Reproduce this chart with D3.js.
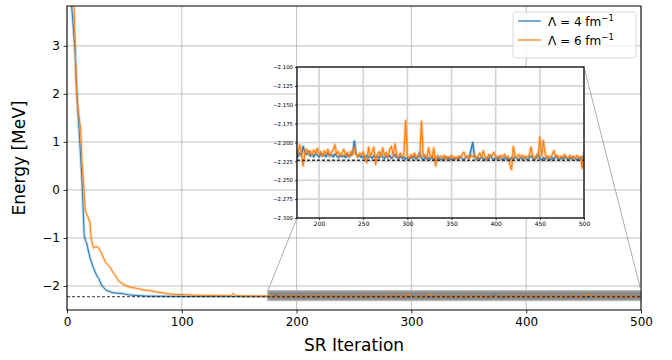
<!DOCTYPE html>
<html><head><meta charset="utf-8">
<script src="https://cdn.jsdelivr.net/npm/d3@7"></script>
<style>body{margin:0;background:#fff} svg{display:block} text{font-family:"DejaVu Sans",sans-serif}</style>
</head><body><svg id="c" width="672" height="360"></svg>
<script>
// ---------- data ----------
const xTicksMain = [0, 100, 200, 300, 400, 500];
const yTicksMain = [-2, -1, 0, 1, 2, 3];
const xTicksInset = [200, 250, 300, 350, 400, 450, 500];
const yTicksInset = [-2.300, -2.275, -2.250, -2.225, -2.200, -2.175, -2.150, -2.125, -2.100];
const seriesNames = ["\u039B = 4 fm", "\u039B = 6 fm"];
const exactEnergy = -2.2235;
const insetXRange = [175, 500];
const insetYRange = [-2.3, -2.1];

const iterEarly4 = [0,2,4,7,9,11,13,15,16,17,18,20,23,26,28,30,34,40,49,55,62,69,80,90,100,110,120,130,140,150,160,170,174];
const energyEarly4 = [5.5,4.6,3.85,2.9,1.85,1.05,0.2,-0.95,-1.05,-1.1,-1.2,-1.41,-1.62,-1.79,-1.86,-1.98,-2.09,-2.14,-2.16,-2.19,-2.2,-2.21,-2.212,-2.215,-2.217,-2.218,-2.218,-2.219,-2.218,-2.219,-2.218,-2.219,-2.218];

const iterEarly6 = [0,3,6,7,8,9,10,12,13,14,16,18,20,21,23,25,27,30,33,35,38,40,42,45,48,52,56,61,66,72,80,87,95,102,110,120,130,140,143,145,147,155,165,174];
const energyEarly6 = [6.2,4.8,3.9,3.2,2.2,1.8,1.6,1.25,0.6,0.3,-0.44,-0.55,-0.68,-1.0,-1.21,-1.18,-1.19,-1.31,-1.48,-1.55,-1.62,-1.72,-1.78,-1.9,-1.95,-2.0,-2.03,-2.05,-2.08,-2.1,-2.13,-2.16,-2.175,-2.18,-2.19,-2.195,-2.2,-2.203,-2.2,-2.155,-2.203,-2.206,-2.209,-2.21];

// iterations 176..500, every second iteration
const iterLate = d3.range(176, 501, 2);
const energyLate4 = [
-2.219,-2.214,-2.217,-2.205,-2.213, -2.216,-2.212,-2.218,-2.215,-2.219,
-2.214,-2.217,-2.219,-2.215,-2.218, -2.216,-2.219,-2.214,-2.218,-2.216,
-2.219,-2.215,-2.218,-2.220,-2.216, -2.219,-2.217,-2.220,-2.216,-2.219,
-2.217,-2.214,-2.198,-2.216,-2.219, -2.217,-2.220,-2.218,-2.221,-2.217,
-2.220,-2.218,-2.221,-2.217,-2.220, -2.218,-2.221,-2.214,-2.219,-2.221,
-2.218,-2.220,-2.217,-2.221,-2.219, -2.216,-2.220,-2.222,-2.218,-2.221,
-2.219,-2.222,-2.220,-2.223,-2.219, -2.221,-2.218,-2.222,-2.220,-2.213,
-2.221,-2.223,-2.219,-2.222,-2.220, -2.222,-2.219,-2.223,-2.220,-2.222,
-2.221,-2.223,-2.220,-2.222,-2.219, -2.222,-2.220,-2.223,-2.221,-2.222,
-2.220,-2.222,-2.219,-2.221,-2.223, -2.220,-2.218,-2.221,-2.210,-2.200,
-2.219,-2.222,-2.220,-2.222,-2.219, -2.221,-2.223,-2.220,-2.222,-2.217,
-2.221,-2.223,-2.220,-2.222,-2.219, -2.221,-2.223,-2.220,-2.222,-2.221,
-2.223,-2.220,-2.222,-2.219,-2.221, -2.223,-2.220,-2.222,-2.219,-2.221,
-2.223,-2.220,-2.218,-2.221,-2.223, -2.220,-2.215,-2.221,-2.223,-2.220,
-2.222,-2.219,-2.221,-2.223,-2.220, -2.222,-2.218,-2.221,-2.223,-2.220,
-2.222,-2.219,-2.221,-2.223,-2.220, -2.222,-2.219,-2.221,-2.223,-2.220,
-2.222,-2.219,-2.221];
const energyLate6 = [
-2.216,-2.203,-2.214,-2.231,-2.212, -2.209,-2.215,-2.211,-2.217,-2.210,
-2.214,-2.208,-2.216,-2.212,-2.218, -2.211,-2.215,-2.209,-2.217,-2.213,
-2.210,-2.203,-2.216,-2.212,-2.218, -2.214,-2.209,-2.217,-2.213,-2.219,
-2.212,-2.216,-2.206,-2.215,-2.219, -2.214,-2.217,-2.212,-2.220,-2.227,
-2.206,-2.218,-2.213,-2.206,-2.229, -2.216,-2.212,-2.219,-2.207,-2.217,
-2.213,-2.220,-2.209,-2.205,-2.218, -2.202,-2.216,-2.220,-2.214,-2.219,
-2.217,-2.171,-2.218,-2.221,-2.216, -2.219,-2.214,-2.220,-2.217,-2.219,
-2.172,-2.219,-2.216,-2.221,-2.207, -2.218,-2.220,-2.207,-2.231,-2.217,
-2.220,-2.218,-2.221,-2.217,-2.222, -2.219,-2.220,-2.217,-2.221,-2.219,
-2.222,-2.218,-2.220,-2.216,-2.213, -2.220,-2.218,-2.221,-2.217,-2.219,
-2.216,-2.221,-2.218,-2.214,-2.220, -2.211,-2.219,-2.222,-2.216,-2.219,
-2.217,-2.213,-2.220,-2.218,-2.221, -2.217,-2.219,-2.216,-2.220,-2.218,
-2.229,-2.236,-2.205,-2.218,-2.220, -2.216,-2.219,-2.217,-2.221,-2.218,
-2.220,-2.217,-2.206,-2.219,-2.221, -2.217,-2.220,-2.193,-2.218,-2.197,
-2.215,-2.221,-2.218,-2.220,-2.216, -2.211,-2.219,-2.217,-2.221,-2.218,
-2.220,-2.216,-2.219,-2.221,-2.217, -2.220,-2.218,-2.221,-2.217,-2.220,
-2.219,-2.234,-2.212];

const colors = ["#1f77b4", "#ff7f0e"];

// ---------- build series ----------
const series = [
  iterEarly4.map((it,i)=>({x:it,y:energyEarly4[i]})).concat(iterLate.map((it,i)=>({x:it,y:energyLate4[i]}))),
  iterEarly6.map((it,i)=>({x:it,y:energyEarly6[i]})).concat(iterLate.map((it,i)=>({x:it,y:energyLate6[i]})))
];

const svg = d3.select("#c");
const M = {l:67, r:641, t:6, b:310};
const x = d3.scaleLinear().domain([0,500]).range([M.l, M.r]);
const y = d3.scaleLinear().domain([-2.5, 3.83]).range([M.b, M.t]);

const defs = svg.append("defs");
defs.append("clipPath").attr("id","clipMain").append("rect")
  .attr("x",M.l).attr("y",M.t).attr("width",M.r-M.l).attr("height",M.b-M.t);

// grid
const grid = svg.append("g").attr("stroke","#b0b0b0").attr("stroke-width",0.8);
xTicksMain.forEach(v=>grid.append("line").attr("x1",x(v)).attr("x2",x(v)).attr("y1",M.t).attr("y2",M.b));
yTicksMain.forEach(v=>grid.append("line").attr("x1",M.l).attr("x2",M.r).attr("y1",y(v)).attr("y2",y(v)));

// inset indicator rectangle
svg.append("rect")
  .attr("x", x(insetXRange[0])).attr("y", y(insetYRange[1]))
  .attr("width", x(insetXRange[1]) - x(insetXRange[0]))
  .attr("height", y(insetYRange[0]) - y(insetYRange[1]))
  .attr("fill","#8a8a8a").attr("stroke","#b4b4b4").attr("stroke-width",1.5);

const plotMain = svg.append("g").attr("clip-path","url(#clipMain)");
const lineMain = d3.line().x(d=>x(d.x)).y(d=>y(d.y));
series.forEach((s,i)=>{
  plotMain.append("path").datum(s).attr("d",lineMain).attr("fill","none")
    .attr("stroke",colors[i]).attr("stroke-width",3).attr("stroke-opacity",0.25).attr("stroke-linejoin","round");
  plotMain.append("path").datum(s).attr("d",lineMain).attr("fill","none")
    .attr("stroke",colors[i]).attr("stroke-width",1).attr("stroke-linejoin","round");
});
plotMain.append("line").attr("x1",M.l).attr("x2",M.r).attr("y1",y(exactEnergy)).attr("y2",y(exactEnergy))
  .attr("stroke","#000").attr("stroke-width",0.8).attr("stroke-dasharray","3,2");

// axes main
const axX = svg.append("g").attr("transform",`translate(0,${M.b})`)
  .call(d3.axisBottom(x).tickValues(xTicksMain).tickSize(3.5).tickPadding(3.5).tickFormat(d3.format("d")));
const axY = svg.append("g").attr("transform",`translate(${M.l},0)`)
  .call(d3.axisLeft(y).tickValues(yTicksMain).tickSize(3.5).tickPadding(3.5).tickFormat(d=>d<0?"\u2212"+Math.abs(d):d));
[axX,axY].forEach(a=>{
  a.select(".domain").remove();
  a.selectAll("text").attr("font-size",12).attr("fill","#000").attr("font-family","DejaVu Sans");
  a.selectAll(".tick line").attr("stroke","#000").attr("stroke-width",0.8);
});
svg.append("rect").attr("x",M.l).attr("y",M.t).attr("width",M.r-M.l).attr("height",M.b-M.t)
  .attr("fill","none").attr("stroke","#000").attr("stroke-width",1);

svg.append("text").attr("x",(M.l+M.r)/2).attr("y",351).attr("text-anchor","middle")
  .attr("font-size",17).text("SR Iteration");
svg.append("text").attr("transform",`translate(25,${(M.t+M.b)/2}) rotate(-90)`).attr("text-anchor","middle")
  .attr("font-size",17).text("Energy [MeV]");

// ---------- inset ----------
const I = {l:297, r:584, t:67, b:218};
const xi = d3.scaleLinear().domain(insetXRange).range([I.l, I.r]);
const yi = d3.scaleLinear().domain(insetYRange).range([I.b, I.t]);

// connectors
const conn = svg.append("g").attr("stroke","#999").attr("stroke-width",0.8);
conn.append("line").attr("x1",I.l).attr("y1",I.b).attr("x2",x(insetXRange[0])).attr("y2",y(insetYRange[1]));
conn.append("line").attr("x1",I.r).attr("y1",I.t).attr("x2",x(insetXRange[1])).attr("y2",y(insetYRange[1]));

svg.append("rect").attr("x",I.l).attr("y",I.t).attr("width",I.r-I.l).attr("height",I.b-I.t).attr("fill","#fff");
defs.append("clipPath").attr("id","clipInset").append("rect")
  .attr("x",I.l).attr("y",I.t).attr("width",I.r-I.l).attr("height",I.b-I.t);
const gi = svg.append("g").attr("stroke","#d3d3d3").attr("stroke-width",1.6);
xTicksInset.forEach(v=>gi.append("line").attr("x1",xi(v)).attr("x2",xi(v)).attr("y1",I.t).attr("y2",I.b));
yTicksInset.forEach(v=>gi.append("line").attr("x1",I.l).attr("x2",I.r).attr("y1",yi(v)).attr("y2",yi(v)));

const plotInset = svg.append("g").attr("clip-path","url(#clipInset)");
const lineInset = d3.line().x(d=>xi(d.x)).y(d=>yi(d.y));
series.forEach((s,i)=>{
  const ss = s.filter(d=>d.x>=170);
  plotInset.append("path").datum(ss).attr("d",lineInset).attr("fill","none")
    .attr("stroke",colors[i]).attr("stroke-width",3.2).attr("stroke-opacity",0.3).attr("stroke-linejoin","round");
  plotInset.append("path").datum(ss).attr("d",lineInset).attr("fill","none")
    .attr("stroke",colors[i]).attr("stroke-width",1.2).attr("stroke-linejoin","round");
});
plotInset.append("line").attr("x1",I.l).attr("x2",I.r).attr("y1",yi(exactEnergy)).attr("y2",yi(exactEnergy))
  .attr("stroke","#333").attr("stroke-width",1.4).attr("stroke-dasharray","3,2");

const aiX = svg.append("g").attr("transform",`translate(0,${I.b})`)
  .call(d3.axisBottom(xi).tickValues(xTicksInset).tickSize(2).tickPadding(2).tickFormat(d3.format("d")));
const aiY = svg.append("g").attr("transform",`translate(${I.l},0)`)
  .call(d3.axisLeft(yi).tickValues(yTicksInset).tickSize(2).tickPadding(2).tickFormat(d=>"\u2212"+Math.abs(d).toFixed(3)));
aiX.selectAll("text").attr("font-size",6);
aiY.selectAll("text").attr("font-size",5.4);
[aiX,aiY].forEach(a=>{
  a.select(".domain").remove();
  a.selectAll("text").attr("fill","#000").attr("font-family","DejaVu Sans");
  a.selectAll(".tick line").attr("stroke","#000").attr("stroke-width",0.8);
});
svg.append("rect").attr("x",I.l).attr("y",I.t).attr("width",I.r-I.l).attr("height",I.b-I.t)
  .attr("fill","none").attr("stroke","#000").attr("stroke-width",1.2);

// ---------- legend ----------
const lg = svg.append("g");
lg.append("rect").attr("x",513).attr("y",12).attr("width",123).attr("height",46).attr("rx",2.5)
  .attr("fill","#fff").attr("fill-opacity",0.8).attr("stroke","#d0d0d0").attr("stroke-width",0.8);
seriesNames.forEach((nm,i)=>{
  const yy = 21 + i*19;
  lg.append("line").attr("x1",518).attr("x2",541).attr("y1",yy).attr("y2",yy).attr("stroke",colors[i]).attr("stroke-width",1.2);
  const t = lg.append("text").attr("x",548).attr("y",yy+4.5).attr("font-size",12).text(nm);
  t.append("tspan").attr("dy",-5).attr("font-size",8.5).text("\u22121");
});
</script></body></html>
